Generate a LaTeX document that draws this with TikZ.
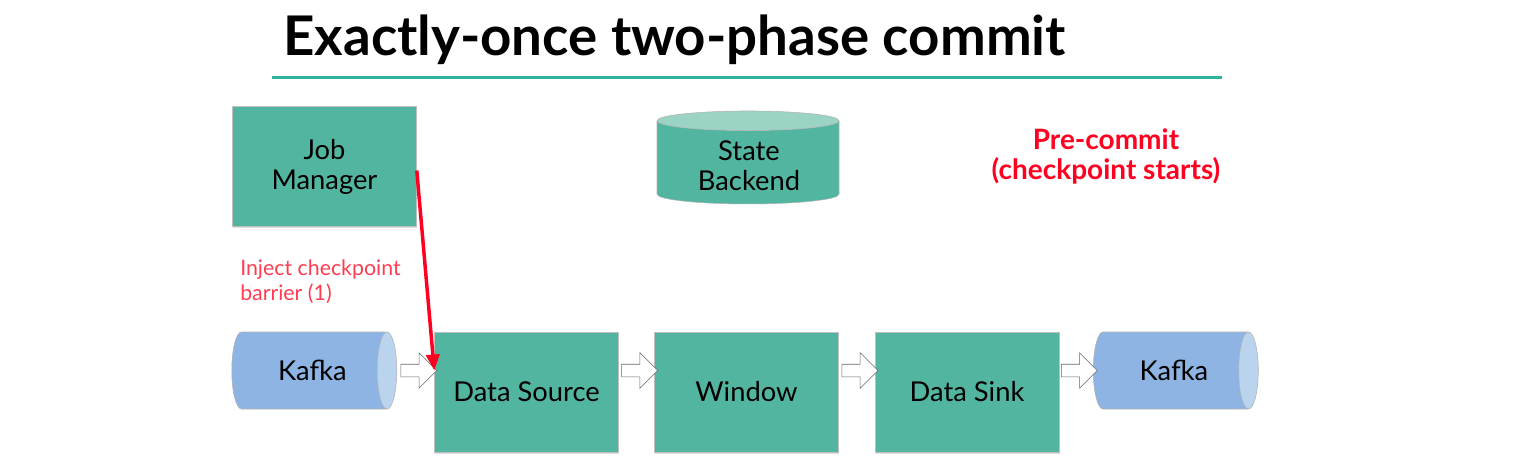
\documentclass[tikz,border=0pt]{standalone}
\usepackage{fontspec}
\setmainfont{Lato}
\usetikzlibrary{shapes.geometric, shapes.arrows, arrows.meta, shadows}
\definecolor{opgreen}{RGB}{82,181,160}
\definecolor{stategreen}{RGB}{155,212,196}
\definecolor{kafkablue}{RGB}{141,180,226}
\definecolor{kafkaend}{RGB}{186,212,238}
\definecolor{ruleteal}{RGB}{43,181,160}
\definecolor{barrierred}{RGB}{255,0,32}
\definecolor{noteRed}{RGB}{255,60,80}

\begin{document}
\begin{tikzpicture}[x=0.75pt, y=-0.75pt]
        \tikzset{Op/.style={shape=rectangle, draw=black!25, fill=opgreen, minimum width=138pt, minimum height=90pt, font=\fontsize{20.5}{22.5}\selectfont, align=center, drop shadow={shadow xshift=0.6pt, shadow yshift=-1.2pt, opacity=0.25}}}
        \tikzset{Queue/.style={shape=cylinder, draw=black!30, cylinder uses custom fill, cylinder body fill=kafkablue, cylinder end fill=kafkaend, aspect=0.66, minimum width=57.75pt, minimum height=123.75pt, font=\fontsize{20.5}{22.5}\selectfont}}
        \tikzset{Store/.style={shape=cylinder, shape border rotate=90, draw=black!30, cylinder uses custom fill, cylinder body fill=opgreen, cylinder end fill=stategreen, aspect=2.2, minimum width=136.5pt, minimum height=69.75pt}}
        \tikzset{HArrow/.style={shape=single arrow, draw=black!60, fill=white, inner xsep=0pt, inner ysep=4.5pt, single arrow head extend=8.6pt, minimum height=27pt}}
        
        \useasboundingbox (0, 0) rectangle (1527, 465);
        
        % title
        \node[anchor=base west, inner sep=0pt, font=\fontsize{41}{44}\selectfont\bfseries] (title) at (283, 55) {Exactly-once two-phase commit};
        \draw[ruleteal, line width=2.25pt] (272, 77) -- (1222, 77);
        
        % nodes
        \node[Op] (jm) at (324.5, 166.5) {Job\\Manager};
        \node[Store] (state) at (748, 164) {};
        \node[align=center, font=\fontsize{20.5}{22.5}\selectfont] (statetext) at (749, 166) {State\\Backend};
        
        \node[Queue] (kin) at (307, 370.5) {\hspace*{8pt}Kafka};
        \node[Op] (src) at (526.5, 392) {Data Source};
        \node[Op] (win) at (746.5, 392) {Window};
        \node[Op] (sink) at (967, 392) {Data Sink};
        \node[Queue] (kout) at (1168.5, 370.5) {\hspace*{8pt}Kafka};
        
        % labels
        \node[anchor=base west, inner sep=0pt, align=left, text=noteRed, font=\fontsize{16}{18.75}\selectfont] (inject) at (240, 300) {Inject checkpoint\\barrier (1)};
        \node[anchor=base, inner sep=0pt, align=center, text=barrierred, font=\fontsize{21}{22.5}\selectfont\bfseries] (phase) at (1106, 179) {Pre-commit\\(checkpoint starts)};
        
        % arrows
        \path (kin.east) -- node[HArrow] {} (src.west |- kin.east);
        \path (src.east |- kin.east) -- node[HArrow] {} (win.west |- kin.east);
        \path (win.east |- kin.east) -- node[HArrow] {} (sink.west |- kin.east);
        \path (sink.east |- kin.east) -- node[HArrow] {} (kout.west);
        \draw[barrierred, line width=2.6pt, -{Triangle[length=12pt, width=10pt]}] ([yshift=-3pt]jm.east) -- (src.west |- kin.east);
    \end{tikzpicture}
\end{document}
